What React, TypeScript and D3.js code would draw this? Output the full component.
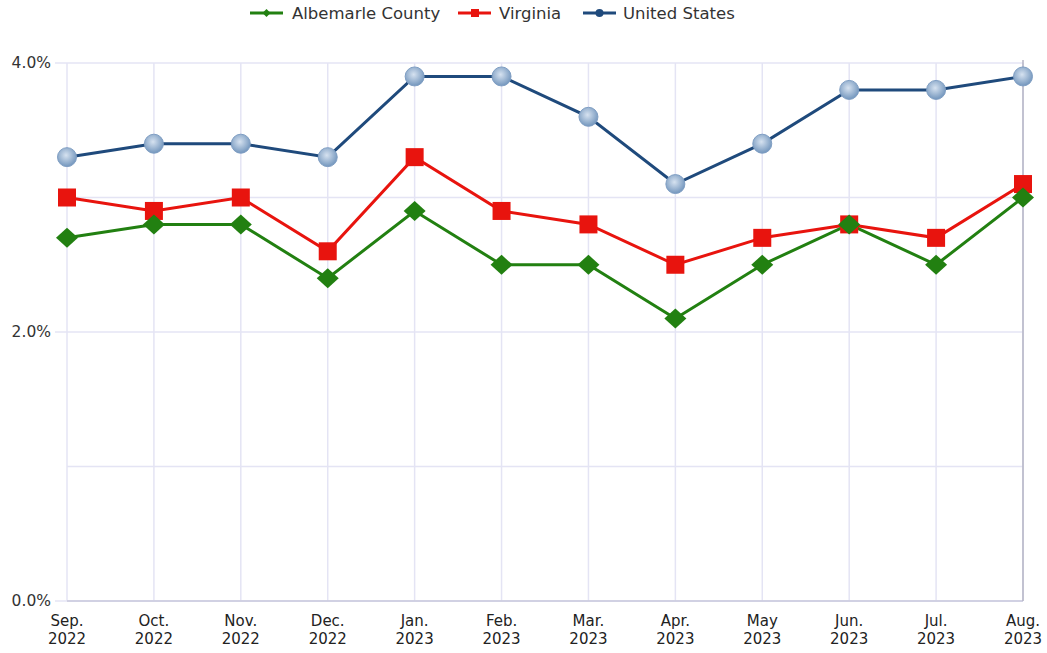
import React from "react";
import * as d3 from "d3";

const categories = ["Sep.|2022","Oct.|2022","Nov.|2022","Dec.|2022","Jan.|2023","Feb.|2023","Mar.|2023","Apr.|2023","May|2023","Jun.|2023","Jul.|2023","Aug.|2023"];
const albemarle = [2.7,2.8,2.8,2.4,2.9,2.5,2.5,2.1,2.5,2.8,2.5,3.0];
const virginia = [3.0,2.9,3.0,2.6,3.3,2.9,2.8,2.5,2.7,2.8,2.7,3.1];
const unitedStates = [3.3,3.4,3.4,3.3,3.9,3.9,3.6,3.1,3.4,3.8,3.8,3.9];
const gridValues = [0,1,2,3,4];
const labelValues = [0,2,4];

const W = 1047, H = 653;
const FONT = "Verdana, 'DejaVu Sans', sans-serif";

export default function App() {
  const x = d3.scalePoint<string>().domain(categories).range([67, 1023]);
  const y = d3.scaleLinear().domain([0, 4]).range([601, 63]);
  const line = d3.line<number>().x((_, i) => x(categories[i])!).y(d => y(d));
  const green = "#228011", red = "#e8140e", blue = "#1f4a7c";

  return (
    <div style={{ position: "absolute", left: 0, top: 0 }}>
      <svg width={W} height={H} style={{ display: "block", fontFamily: FONT }}>
        <defs>
          <radialGradient id="usg" cx="45%" cy="40%" r="60%">
            <stop offset="0%" stopColor="#d6e2f0" />
            <stop offset="100%" stopColor="#7396bd" />
          </radialGradient>
        </defs>
        <rect width={W} height={H} fill="#fff" />
        {categories.map(c => (
          <line key={c} x1={x(c)} x2={x(c)} y1={63} y2={601} stroke="#e4e4f4" strokeWidth={1.5} />
        ))}
        {gridValues.map(v => (
          <line key={v} x1={67} x2={1023} y1={y(v)} y2={y(v)} stroke="#e4e4f4" strokeWidth={1.5} />
        ))}
        {labelValues.map(v => (
          <line key={"t"+v} x1={55} x2={67} y1={y(v)} y2={y(v)} stroke="#e4e4f4" strokeWidth={1.5} />
        ))}
        <line x1={67} x2={1023} y1={601} y2={601} stroke="#c8c8dc" strokeWidth={1.5} />
        <line x1={1023} x2={1023} y1={60} y2={601} stroke="#b4b4c4" strokeWidth={1.5} />
        {labelValues.map(v => (
          <text key={"l"+v} x={51} y={y(v)} dy="0.35em" textAnchor="end" fontSize={15.5} fill="#333">{v.toFixed(1)}%</text>
        ))}
        {categories.map(c => {
          const [a, b] = c.split("|");
          return (
            <text key={"x"+c} x={x(c)} textAnchor="middle" fontSize={15} fill="#222">
              <tspan x={x(c)} y={626}>{a}</tspan>
              <tspan x={x(c)} y={644}>{b}</tspan>
            </text>
          );
        })}
        <path d={line(unitedStates)!} fill="none" stroke={blue} strokeWidth={3} />
        <path d={line(virginia)!} fill="none" stroke={red} strokeWidth={3} />
        <path d={line(albemarle)!} fill="none" stroke={green} strokeWidth={3} />
        {unitedStates.map((v, i) => (
          <circle key={"u"+i} cx={x(categories[i])} cy={y(v)} r={9.5} fill="url(#usg)" stroke="#7f9ec3" strokeWidth={1} />
        ))}
        {virginia.map((v, i) => (
          <rect key={"v"+i} x={x(categories[i])! - 9} y={y(v) - 9} width={18} height={18} fill={red} />
        ))}
        {albemarle.map((v, i) => {
          const cx = x(categories[i])!, cy = y(v);
          return <path key={"a"+i} d={`M${cx},${cy-10}L${cx+11},${cy}L${cx},${cy+10}L${cx-11},${cy}Z`} fill={green} />;
        })}
        <g fontSize={16.5} fill="#333">
          <line x1={250} x2={283} y1={13} y2={13} stroke={green} strokeWidth={3} />
          <path d="M266.5,9L270.5,13L266.5,17L262.5,13Z" fill={green} />
          <text x={292} y={13} dy="0.35em">Albemarle County</text>
          <line x1={458} x2={491} y1={13} y2={13} stroke={red} strokeWidth={3} />
          <rect x={471} y={9} width={8} height={8} fill={red} />
          <text x={499} y={13} dy="0.35em">Virginia</text>
          <line x1={583} x2={616} y1={13} y2={13} stroke={blue} strokeWidth={3} />
          <circle cx={599.5} cy={13} r={4} fill={blue} />
          <text x={623} y={13} dy="0.35em">United States</text>
        </g>
      </svg>
    </div>
  );
}
